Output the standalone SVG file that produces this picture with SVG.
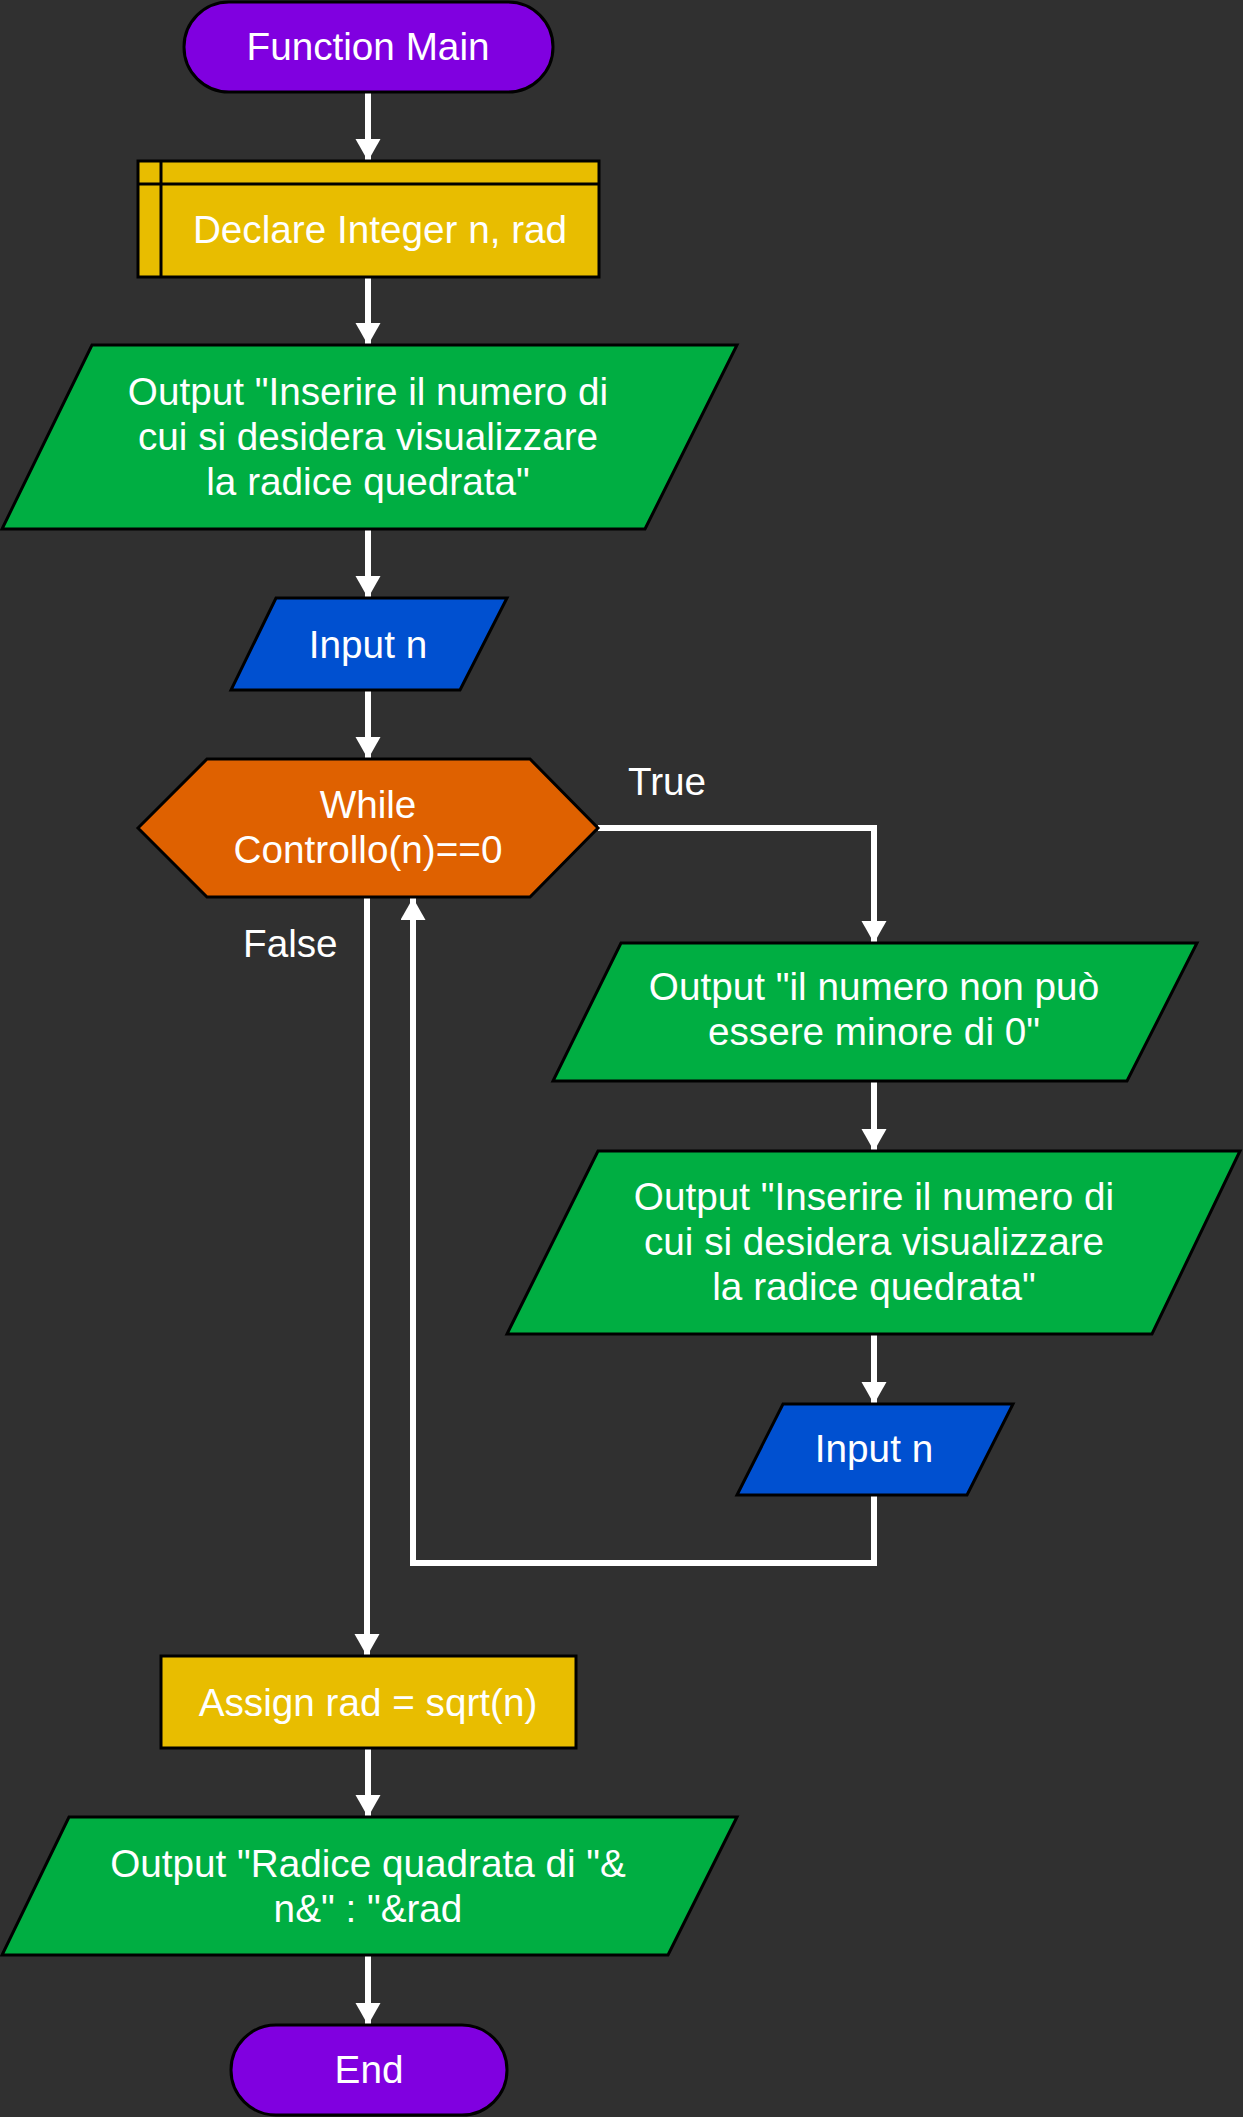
<svg xmlns="http://www.w3.org/2000/svg" width="1243" height="2117" viewBox="0 0 1243 2117">
<style>
.bg{fill:#303030}
.n{stroke:#000;stroke-width:3}
.term{fill:#8000e0}
.proc{fill:#e8bd00}
.out{fill:#00ae42}
.inp{fill:#0050d0}
.loop{fill:#df6100}
text{font-family:"Liberation Sans",Arial,sans-serif;font-size:38.7px;fill:#fff}
.c{text-anchor:middle}
.e{fill:none;stroke:#fff;stroke-width:6;marker-end:url(#ah)}
</style>
<defs>
<marker id="ah" markerUnits="userSpaceOnUse" markerWidth="24" markerHeight="26" refX="22" refY="12.5" orient="auto">
<path d="M0,0 L22,12.5 L0,25 z" fill="#fff"/>
</marker>
</defs>
<rect class="bg" x="0" y="0" width="1243" height="2117"/>
<g id="connectors">
<path class="e" d="M368,92 V161"/>
<path class="e" d="M368,277 V345"/>
<path class="e" d="M368,529 V598"/>
<path class="e" d="M368,690 V759"/>
<path class="e" d="M598,828 H874 V943"/>
<path class="e" d="M874,1081 V1151"/>
<path class="e" d="M874,1334 V1404"/>
<path class="e" d="M874,1495 V1563 H413 V898"/>
<path class="e" d="M367,897 V1656"/>
<path class="e" d="M368,1748 V1817"/>
<path class="e" d="M368,1955 V2025"/>
<text x="628" y="795">True</text>
<text x="243" y="957">False</text>
</g>
<g id="start">
<rect class="n term" x="184" y="2" width="369" height="90" rx="45"/>
<text class="c" x="368" y="60">Function Main</text>
</g>
<g id="declare">
<rect class="n proc" x="138" y="161" width="461" height="116"/>
<path d="M161,161 V277 M138,184 H599" stroke="#000" stroke-width="3" fill="none"/>
<text class="c" x="380" y="243">Declare Integer n, rad</text>
</g>
<g id="output1">
<polygon class="n out" points="92,345 737,345 645,529 2,529"/>
<text class="c" x="368" y="405">Output "Inserire il numero di</text>
<text class="c" x="368" y="450">cui si desidera visualizzare</text>
<text class="c" x="368" y="495">la radice quedrata"</text>
</g>
<g id="input1">
<polygon class="n inp" points="276,598 507,598 460,690 231,690"/>
<text class="c" x="368" y="658">Input n</text>
</g>
<g id="while">
<polygon class="n loop" points="138,828 207,759 530,759 598,828 530,897 207,897"/>
<text class="c" x="368" y="818">While</text>
<text class="c" x="368" y="863">Controllo(n)==0</text>
</g>
<g id="output2">
<polygon class="n out" points="621,943 1197,943 1127,1081 553,1081"/>
<text class="c" x="874" y="1000">Output "il numero non può</text>
<text class="c" x="874" y="1045">essere minore di 0"</text>
</g>
<g id="output3">
<polygon class="n out" points="598,1151 1240,1151 1152,1334 507,1334"/>
<text class="c" x="874" y="1210">Output "Inserire il numero di</text>
<text class="c" x="874" y="1255">cui si desidera visualizzare</text>
<text class="c" x="874" y="1300">la radice quedrata"</text>
</g>
<g id="input2">
<polygon class="n inp" points="783,1404 1013,1404 967,1495 737,1495"/>
<text class="c" x="874" y="1462">Input n</text>
</g>
<g id="assign">
<rect class="n proc" x="161" y="1656" width="415" height="92"/>
<text class="c" x="368" y="1716">Assign rad = sqrt(n)</text>
</g>
<g id="output4">
<polygon class="n out" points="69,1817 737,1817 668,1955 2,1955"/>
<text class="c" x="368" y="1877">Output "Radice quadrata di "&amp;</text>
<text class="c" x="368" y="1922">n&amp;" : "&amp;rad</text>
</g>
<g id="end">
<rect class="n term" x="231" y="2025" width="276" height="90" rx="45"/>
<text class="c" x="369" y="2083">End</text>
</g>
</svg>
